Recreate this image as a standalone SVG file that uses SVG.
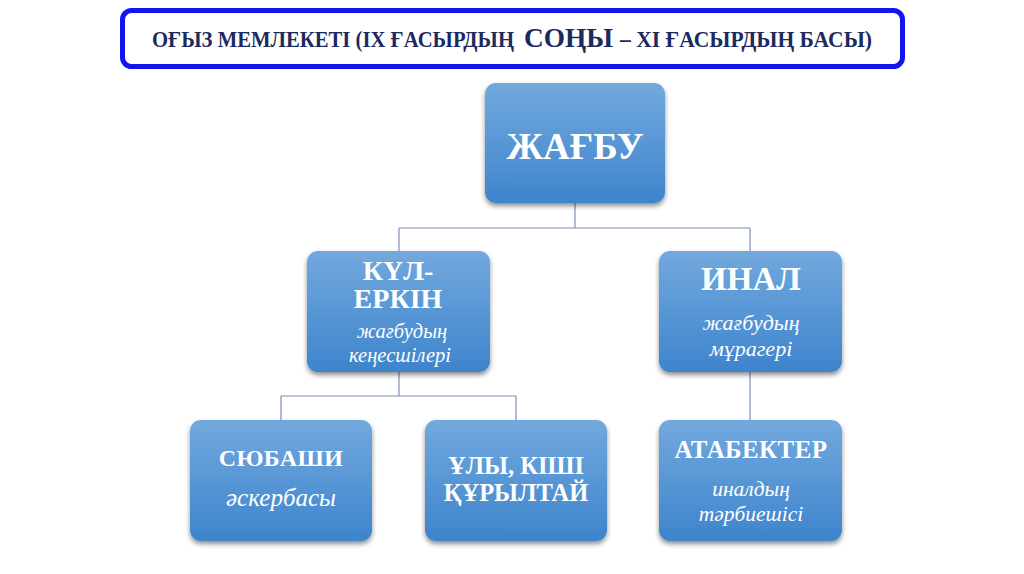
<svg xmlns="http://www.w3.org/2000/svg" width="1024" height="574" viewBox="0 0 1024 574">
<defs>
<linearGradient id="g" x1="0" y1="0" x2="0" y2="1">
<stop offset="0" stop-color="#72a9de"/>
<stop offset="1" stop-color="#3e84cc"/>
</linearGradient>
<filter id="sh" x="-10%" y="-10%" width="120%" height="125%">
<feGaussianBlur in="SourceAlpha" stdDeviation="2.5"/>
<feOffset dx="0" dy="3" result="b"/>
<feComponentTransfer><feFuncA type="linear" slope="0.45"/></feComponentTransfer>
<feMerge><feMergeNode/><feMergeNode in="SourceGraphic"/></feMerge>
</filter>
</defs>
<style>
.box{fill:url(#g);filter:url(#sh)}
.t{font-family:"Liberation Serif","Times New Roman",serif;font-weight:bold;fill:#ffffff;text-anchor:middle}
.i{font-family:"Liberation Serif","Times New Roman",serif;font-style:italic;fill:#ffffff;text-anchor:middle}
.c{fill:none;stroke:#7b8fba;stroke-width:1.2}
.h{font-family:"Liberation Serif","Times New Roman",serif;font-weight:bold;fill:#1c2a5e}
</style>
<rect width="1024" height="574" fill="#ffffff"/>
<g id="title">
<rect x="122.5" y="10.5" width="780" height="56" rx="9" fill="#ffffff" stroke="#1414f0" stroke-width="5"/>
<text class="h" transform="translate(152,47) scale(1,1.16)" x="0" y="0" font-size="19" textLength="362" lengthAdjust="spacingAndGlyphs">ОҒЫЗ МЕМЛЕКЕТІ (IX ҒАСЫРДЫҢ</text>
<text class="h" transform="translate(524,47) scale(1,1.16)" x="0" y="0" font-size="24" textLength="89" lengthAdjust="spacingAndGlyphs">СОҢЫ</text>
<text class="h" transform="translate(620,47) scale(1,1.16)" x="0" y="0" font-size="19" textLength="252" lengthAdjust="spacingAndGlyphs">– XI ҒАСЫРДЫҢ БАСЫ)</text>
</g>
<g id="connectors">
<path class="c" d="M575 203V228M399 228H750M399 228V251M750 228V251"/>
<path class="c" d="M399 372V396M281 396H516M281 396V420M516 396V420"/>
<path class="c" d="M750 372V420"/>
</g>
<g id="zhagbu">
<rect class="box" x="485" y="83" width="180" height="120" rx="11"/>
<text class="t" x="575" y="159" font-size="37">ЖАҒБУ</text>
</g>
<g id="kul-erkin">
<rect class="box" x="307" y="251" width="183" height="121" rx="11"/>
<text class="t" x="398" y="280" font-size="28">КҮЛ-</text>
<text class="t" x="398" y="308" font-size="28">ЕРКІН</text>
<text class="i" x="402" y="338" font-size="20.5">жағбудың</text>
<text class="i" x="400" y="362" font-size="20.5">кеңесшілері</text>
</g>
<g id="inal">
<rect class="box" x="659" y="251" width="183" height="121" rx="11"/>
<text class="t" x="751" y="290" font-size="33">ИНАЛ</text>
<text class="i" x="751" y="330" font-size="22">жағбудың</text>
<text class="i" x="751" y="356" font-size="22">мұрагері</text>
</g>
<g id="syubashi">
<rect class="box" x="190" y="420" width="182" height="121" rx="11"/>
<text class="t" x="281" y="466" font-size="24" letter-spacing="0.4">СЮБАШИ</text>
<text class="i" x="281" y="506" font-size="25">әскербасы</text>
</g>
<g id="kurultai">
<rect class="box" x="425" y="420" width="182" height="121" rx="11"/>
<text class="t" x="516" y="474" font-size="24.5">ҰЛЫ, КІШІ</text>
<text class="t" x="516" y="501" font-size="24.5">ҚҰРЫЛТАЙ</text>
</g>
<g id="atabekter">
<rect class="box" x="659" y="420" width="183" height="121" rx="11"/>
<text class="t" x="751" y="458" font-size="25" letter-spacing="0.4">АТАБЕКТЕР</text>
<text class="i" x="751" y="496" font-size="21.5">иналдың</text>
<text class="i" x="751" y="521" font-size="21.5">тәрбиешісі</text>
</g>
</svg>
